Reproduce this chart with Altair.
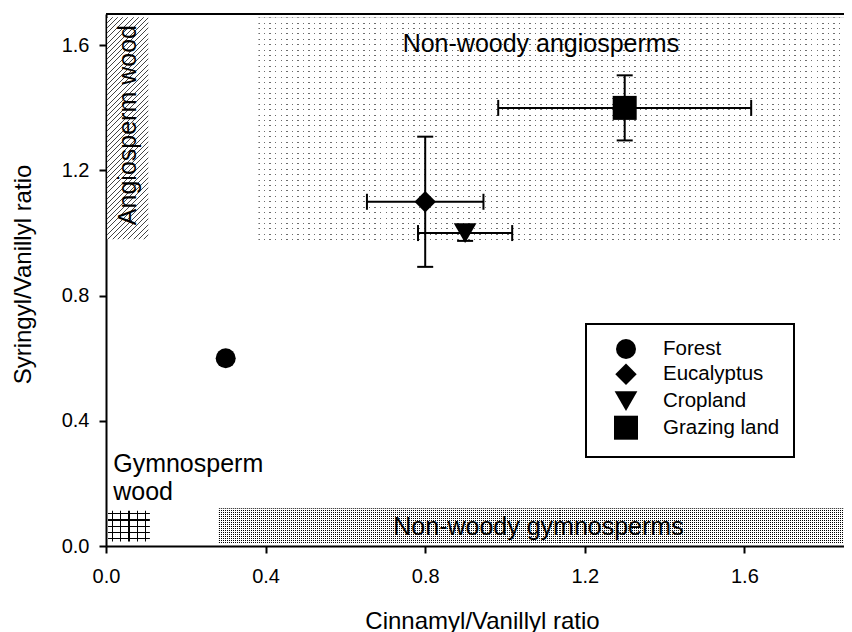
import altair as alt
import pandas as pd

# ---------------- data ----------------
series = ["Forest", "Eucalyptus", "Cropland", "Grazing land"]
cinnamyl = [0.30, 0.80, 0.90, 1.30]
syringyl = [0.60, 1.10, 1.00, 1.40]
cinnamyl_err = [0.0, 0.146, 0.118, 0.317]
syringyl_err = [0.0, 0.208, 0.025, 0.104]

region_names = ["Angiosperm wood", "Non-woody angiosperms", "Gymnosperm wood", "Non-woody gymnosperms"]
region_x0 = [0.003, 0.382, 0.005, 0.283]
region_x1 = [0.106, 1.85, 0.110, 1.85]
region_y0 = [0.980, 0.963, 0.014, 0.008]
region_y1 = [1.690, 1.690, 0.113, 0.121]

label_text = ["Angiosperm wood", "Non-woody angiosperms", "Gymnosperm\nwood", "Non-woody gymnosperms"]
label_x = [0.054, 1.09, 0.018, 0.72]
label_y = [1.345, 1.605, 0.237, 0.035]

tick_values = [0.0, 0.4, 0.8, 1.2, 1.6]

# ---------------- layout ----------------
W = 738
H = 532
X_MAX = W / 399.0
Y_MAX = 1.70
FONT = "Liberation Sans"
PX_X = W / X_MAX
PX_Y = H / Y_MAX
CLEAR = "rgba(255,255,255,0)"

pts = pd.DataFrame({"series": series, "cv": cinnamyl, "sv": syringyl,
                    "ce": cinnamyl_err, "se": syringyl_err})
pts["xlo"] = pts.cv - pts.ce
pts["xhi"] = pts.cv + pts.ce
pts["ylo"] = pts.sv - pts.se
pts["yhi"] = pts.sv + pts.se
xerr = pts[pts.ce > 0]
yerr = pts[pts.se > 0]
xcaps = pd.concat([xerr[["xlo", "sv"]].rename(columns={"xlo": "x"}),
                   xerr[["xhi", "sv"]].rename(columns={"xhi": "x"})])
ycaps = pd.concat([yerr[["cv", "ylo"]].rename(columns={"ylo": "y"}),
                   yerr[["cv", "yhi"]].rename(columns={"yhi": "y"})])

regions = pd.DataFrame({"name": region_names, "x0": region_x0, "x1": region_x1,
                        "y0": region_y0, "y1": region_y1})
labels = pd.DataFrame({"text": label_text, "x": label_x, "y": label_y})

xs = alt.Scale(domain=[0, X_MAX], nice=False, zero=False)
ys = alt.Scale(domain=[0, Y_MAX], nice=False, zero=False)

axis_style = dict(grid=False, labelFont=FONT, labelFontSize=20, labelColor="black", labelFlush=False,
                  tickColor="black", tickSize=7, tickWidth=2, domainColor="black", domainWidth=2,
                  titleFont=FONT, titleFontSize=24, titleFontWeight="normal", titleColor="black",
                  values=tick_values, format=".1f")
x_axis = alt.Axis(title="Cinnamyl/Vanillyl ratio", labelPadding=13, titleX=376, titleY=82,
                  titleAlign="center", titleBaseline="alphabetic", **axis_style)
y_axis = alt.Axis(title="Syringyl/Vanillyl ratio", labelPadding=10, titleAngle=270, titleX=-76,
                  titleY=260, titleAlign="center", titleBaseline="alphabetic", **axis_style)


def X(field):
    return alt.X(field, scale=xs, axis=x_axis)


def Y(field):
    return alt.Y(field, scale=ys, axis=y_axis)


def stripes(n, frac, on, off, centered=False):
    stops = [{"offset": 0, "color": off}]
    for i in range(n):
        a = (i + ((0.5 - frac / 2) if centered else 0.0)) / n
        b = a + frac / n
        a = round(min(max(a, 0), 1), 6)
        b = round(min(max(b, 0), 1), 6)
        stops += [{"offset": a, "color": off}, {"offset": a, "color": on},
                  {"offset": b, "color": on}, {"offset": b, "color": off}]
    stops.append({"offset": 1, "color": off})
    return stops


def grad(stops, x2, y2):
    return {"gradient": "linear", "x1": 0, "y1": 0, "x2": x2, "y2": y2, "stops": stops}


def region_px(i):
    w = (min(region_x1[i], X_MAX) - region_x0[i]) * PX_X
    h = (region_y1[i] - region_y0[i]) * PX_Y
    return w, h


def region_layer(i, fill):
    d = regions[regions.name == region_names[i]]
    return alt.Chart(d).mark_rect(fill=fill, stroke=None).encode(
        x=X("x0:Q"), x2="x1:Q", y=Y("y0:Q"), y2="y1:Q")


layers = []

# hatch for angiosperm wood ("/" lines)
w, h = region_px(0)
k = (w + h) / (w * w + h * h)
n = round((w + h) / 5.2)
layers.append(region_layer(0, grad(stripes(n, 1.0 / ((w + h) / n), "#444444", "white"), k * w, k * h)))

# sparse dots for non-woody angiosperms
w, h = region_px(1)
nr = round(h / 5.4)
nc = round(w / 5.5)
layers.append(region_layer(1, grad(stripes(nr, 1.0 / (h / nr), "#6e6e6e", "white"), 0, 1)))
layers.append(region_layer(1, grad(stripes(nc, 1.5 / (w / nc), CLEAR, "white"), 1, 0)))

# grid for gymnosperm wood
w, h = region_px(2)
layers.append(region_layer(2, grad(stripes(5, 1.2 / (h / 5), "black", "white", True), 0, 1)))
layers.append(region_layer(2, grad(stripes(5, 1.2 / (w / 5), "black", CLEAR, True), 1, 0)))

# dense dots for non-woody gymnosperms
w, h = region_px(3)
nr = round(h / 2.0)
nc = round(w / 2.0)
layers.append(region_layer(3, grad(stripes(nr, 1.0 / (h / nr), "black", "white"), 0, 1)))
layers.append(region_layer(3, grad(stripes(nc, 1.0 / (w / nc), CLEAR, "white"), 1, 0)))


# region labels
def label_layer(i, **kw):
    d = labels[labels.text == label_text[i]]
    return alt.Chart(d).mark_text(font=FONT, fontSize=25, color="black", **kw).encode(
        x=X("x:Q"), y=Y("y:Q"), text="text:N")


layers.append(label_layer(0, angle=270, align="center", baseline="middle"))
layers.append(label_layer(1, align="center", baseline="middle"))
layers.append(label_layer(2, align="left", baseline="alphabetic", lineBreak="\n", lineHeight=28))
layers.append(label_layer(3, align="left", baseline="alphabetic"))

# top frame line
layers.append(alt.Chart(pts).mark_rule(color="black", strokeWidth=2).encode(
    y=alt.YDatum(Y_MAX, scale=ys, axis=y_axis)))

# error bars
layers.append(alt.Chart(xerr).mark_rule(color="black", strokeWidth=2, opacity=1).encode(
    x=X("xlo:Q"), x2="xhi:Q", y=Y("sv:Q")))
layers.append(alt.Chart(yerr).mark_rule(color="black", strokeWidth=2, opacity=1).encode(
    x=X("cv:Q"), y=Y("ylo:Q"), y2="yhi:Q"))
layers.append(alt.Chart(xcaps).mark_tick(orient="vertical", size=16, thickness=2, color="black",
                                         opacity=1).encode(x=X("x:Q"), y=Y("sv:Q")))
layers.append(alt.Chart(ycaps).mark_tick(orient="horizontal", size=16, thickness=2, color="black",
                                         opacity=1).encode(x=X("cv:Q"), y=Y("y:Q")))

shape_scale = alt.Scale(domain=series, range=["circle", "diamond", "triangle-down", "square"])
size_scale = alt.Scale(domain=series, range=[400, 576, 450, 340])
legend = alt.Legend(title=None, orient="none", legendX=480, legendY=310)

layers.append(alt.Chart(pts).mark_point(filled=True, color="black", opacity=1).encode(
    x=X("cv:Q"),
    y=Y("sv:Q"),
    shape=alt.Shape("series:N", scale=shape_scale, legend=legend),
    size=alt.Size("series:N", scale=size_scale, legend=legend),
))

chart = alt.layer(*layers).properties(
    width=W, height=H,
    autosize=alt.AutoSizeParams(type="none"),
    padding={"left": 98, "top": 6, "right": 0, "bottom": 86},
).configure_view(stroke=None).configure_legend(
    strokeColor="black", strokeWidth=2, fillColor="white", padding=14, rowPadding=-2.3,
    labelFont=FONT, labelFontSize=20.5, labelColor="black", symbolOffset=13, labelOffset=24,
    symbolFillColor="black", symbolStrokeColor="black",
)

chart.save("out.html", embed_options={"renderer": "svg", "actions": False})
